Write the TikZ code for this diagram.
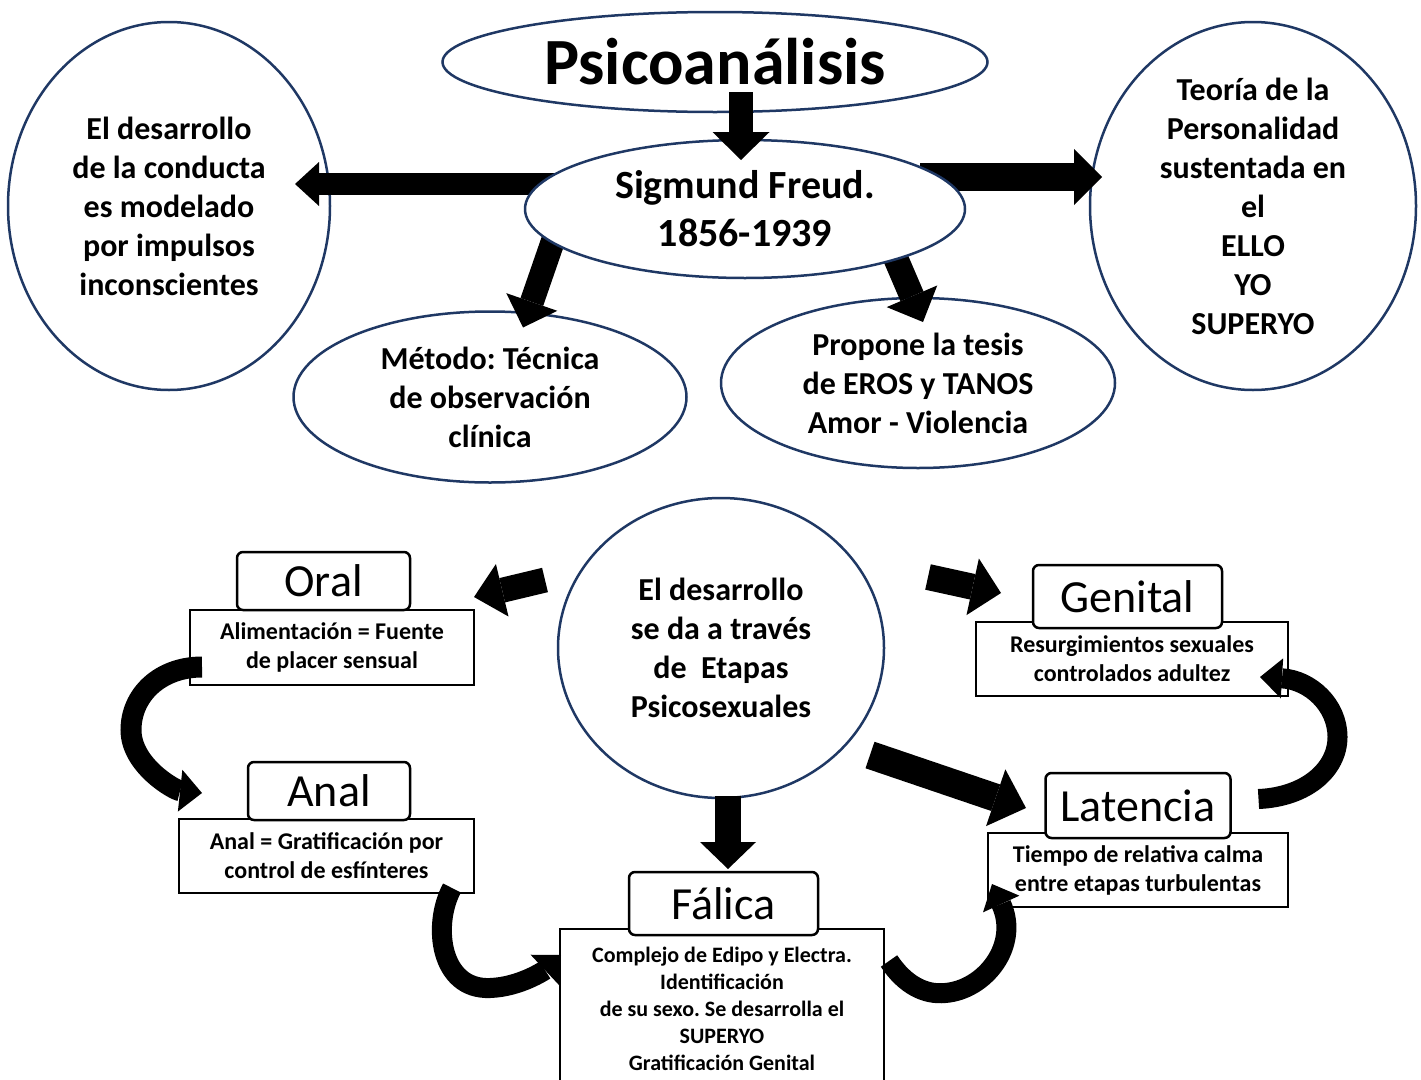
\documentclass[tikz,border=0pt]{standalone}
\usepackage{fontspec}
\setmainfont{Carlito}
\frenchspacing
\usepackage{tikz}
\usetikzlibrary{arrows.meta, positioning, shapes.geometric, calc}
\definecolor{navy}{RGB}{31,56,100}
\pgfdeclarelayer{back}
\pgfdeclarelayer{mid}
\pgfsetlayers{back,mid,main}
\tikzset{
    idea/.style={ellipse, draw=navy, line width=2.5pt, fill=white, inner sep=0pt, outer sep=0pt, align=center,
        font=\fontsize{32}{39}\selectfont\bfseries}, % the blue ellipses
    stagetitle/.style={draw, rounded corners=6pt, line width=2.5pt, fill=white, inner sep=0pt, outer sep=0pt,
        font=\fontsize{46}{50}\selectfont}, % name of each stage
    stagedesc/.style={draw, line width=2pt, fill=white, inner sep=0pt, outer sep=0pt, align=center,
        font=\fontsize{24}{29}\selectfont\bfseries}, % text under the name
    blockarrow/.style n args={3}{line width=#1, -{Triangle[width=#2, length=#3, line width=0pt]}}, % thick black arrows
}

\begin{document}
\begin{tikzpicture}[x=1pt, y=-1pt]
\useasboundingbox (0,0) rectangle (1421,1079);
\clip (0,0) rectangle (1421,1079);

\begin{pgfonlayer}{back}
\node[idea, minimum width=322pt, minimum height=368pt] (conducta) at (169,206)
    {El desarrollo\\de la conducta\\es modelado\\por impulsos\\inconscientes};
\node[idea, minimum width=326pt, minimum height=368pt] (teoria) at (1253,206)
    {Teoría de la\\Personalidad\\sustentada en\\el\\ELLO\\YO\\SUPERYO};
\node[idea, minimum width=393pt, minimum height=171pt] (metodo) at (490,397)
    {Método: Técnica\\de observación\\clínica};
\node[idea, minimum width=394pt, minimum height=170pt] (propone) at (918,383)
    {Propone la tesis\\de EROS y TANOS\\Amor - Violencia};
\end{pgfonlayer}

\node[idea, minimum width=440pt, minimum height=138pt, font=\fontsize{40}{48}\selectfont\bfseries] (freud) at (745,209)
    {Sigmund Freud.\\1856-1939};
\node[idea, minimum width=545pt, minimum height=100pt, font=\fontsize{66}{70}\selectfont\bfseries] (psico) at (715,62)
    {Psicoanálisis};

\draw[blockarrow={24pt}{57pt}{28pt}] ($(psico.south)+(26,-20)$) -- ($(freud.north)+(-4,20)$);
\begin{pgfonlayer}{mid}
\draw[blockarrow={22pt}{44pt}{24pt}] ($(freud.center)+(-185,-25)$) -- ($(conducta.east)+(-35,-22)$);
\draw[blockarrow={28pt}{56pt}{28pt}] ($(freud.center)+(175,-32)$) -- ($(teoria.west)+(12,-29)$);
\draw[blockarrow={24pt}{54pt}{27pt}] ($(freud.center)+(-190,26)$) -- ($(metodo.north)+(33,16)$);
\draw[blockarrow={25pt}{55pt}{28pt}] ($(freud.center)+(145,36)$) -- ($(propone.north)+(5,24)$);
\end{pgfonlayer}

\node[idea, minimum width=326pt, minimum height=300pt] (etapas) at (721,648)
    {El desarrollo\\se da a través\\de\ \ Etapas\\Psicosexuales};

\node[stagedesc, minimum width=284pt, minimum height=75pt] (oraldesc) at (332,647.5)
    {Alimentación = Fuente\\de placer sensual};
\node[stagetitle, minimum width=173pt, minimum height=58pt, above=0pt of oraldesc, xshift=-8.5pt] (oral) {Oral};
\node[stagedesc, minimum width=295pt, minimum height=74pt] (analdesc) at (326.5,856)
    {Anal = Gratificación por\\control de esfínteres};
\node[stagetitle, minimum width=162pt, minimum height=58pt, above=-1pt of analdesc, xshift=2.5pt] (anal) {Anal};
\node[stagedesc, minimum width=324pt, minimum height=160pt, line width=1.6pt, font=\fontsize{22}{27}\selectfont\bfseries] (falicadesc) at (722,1009)
    {Complejo de Edipo y Electra.\\Identificación\\de su sexo. Se desarrolla el\\SUPERYO\\Gratificación Genital};
\node[stagetitle, minimum width=189pt, minimum height=63pt, above=-6pt of falicadesc, xshift=1.5pt] (falica) {Fálica};
\node[stagedesc, minimum width=300pt, minimum height=74pt] (latenciadesc) at (1138,870)
    {Tiempo de relativa calma\\entre etapas turbulentas};
\node[stagetitle, minimum width=185pt, minimum height=65pt, above=-5pt of latenciadesc] (latencia) {Latencia};
\node[stagedesc, minimum width=312pt, minimum height=74pt] (genitaldesc) at (1132,659)
    {Resurgimientos sexuales\\controlados adultez};
\node[stagetitle, minimum width=189pt, minimum height=63pt, above=-6pt of genitaldesc, xshift=-4.5pt] (genital) {Genital};

\draw[blockarrow={25pt}{54pt}{29pt}] ($(etapas.center)+(-176,-68)$) -- ($(oraldesc.north east)+(0,-13)$);
\draw[blockarrow={26pt}{58pt}{29pt}] ($(etapas.center)+(207,-71)$) -- ($(genitaldesc.north west)+(25,-29)$);
\draw[blockarrow={28pt}{60pt}{32pt}] ($(etapas.center)+(149,107)$) -- ($(latenciadesc.north west)+(38,-25)$);
\draw[blockarrow={26pt}{56pt}{27pt}] ($(etapas.south)+(7,-2)$) -- ($(falica.north)+(4.5,-3)$);

\draw[blockarrow={21pt}{42pt}{22pt}] ($(oraldesc.west)+(12,19.5)$)
    .. controls +(-42,0) and +(0,-35) .. ++(-71,63)
    .. controls +(0,35) and +(-28,-3) .. ($(anal.west)+(-46,2)$);
\draw[blockarrow={20pt}{42pt}{22pt}] ($(analdesc.south east)+(-22,-5)$)
    .. controls +(-20,37) and +(-50,2) .. ++(38,100)
    .. controls +(30,-1) and +(-16,15) .. ($(falicadesc.west)+(1,-54)$);
\draw[blockarrow={20pt}{40pt}{22pt}] ($(falicadesc.east)+(5,-48)$)
    .. controls +(16,24) and +(-20,2) .. ++(56,32)
    .. controls +(40,-3) and +(28,61) .. ($(latenciadesc.south west)+(4,-23)$);
\draw[blockarrow={20pt}{40pt}{22pt}] ($(latencia.east)+(28,-6.5)$)
    .. controls +(47,-2) and +(0,33) .. ++(79,-62)
    .. controls +(0,-32) and +(50,3) .. ($(genitaldesc.east)+(-28,18)$);
\end{tikzpicture}
\end{document}
